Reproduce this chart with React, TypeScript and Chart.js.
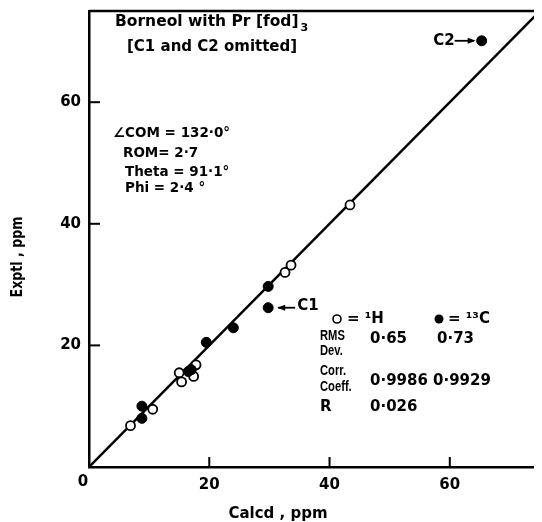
import React, { useEffect, useRef } from "react";
import { Chart, registerables } from "chart.js";
Chart.register(...registerables);

const xTicks = [20, 40, 60];
const yTicks = [20, 40, 60];
const axisMax = 75;
const hCalcd = [6.9, 10.6, 15.0, 15.4, 17.4, 17.8, 32.6, 33.6, 43.4];
const hExptl = [6.8, 9.5, 15.5, 14.0, 14.9, 16.8, 32.0, 33.2, 43.1];
const cCalcd = [8.8, 8.8, 16.5, 17.0, 19.5, 24.0, 29.8];
const cExptl = [10.0, 8.0, 15.7, 16.0, 20.5, 22.9, 29.7];
const c1Point = { x: 29.8, y: 26.2 };
const c2Point = { x: 65.3, y: 70.1 };
const fitLine = [0, 75];

const FONT = "'DejaVu Sans', sans-serif";
const NARROW = "'Liberation Sans', Arial, sans-serif";

export default function App() {
  const ref = useRef<HTMLCanvasElement>(null);
  useEffect(() => {
    const canvas = ref.current!;
    const condensed = (ctx: CanvasRenderingContext2D, text: string, x: number, y: number, sx: number) => {
      ctx.save();
      ctx.translate(x, y);
      ctx.scale(sx, 1);
      ctx.fillText(text, 0, 0);
      ctx.restore();
    };
    const deco = {
      id: "deco",
      afterDraw(chart: any) {
        const ctx = chart.ctx as CanvasRenderingContext2D;
        const xs = chart.scales.x;
        const ys = chart.scales.y;
        const a = chart.chartArea;
        ctx.save();
        ctx.strokeStyle = "#000";
        ctx.fillStyle = "#000";
        ctx.lineWidth = 2.5;
        // top border
        ctx.beginPath();
        ctx.moveTo(a.left, a.top);
        ctx.lineTo(a.right, a.top);
        ctx.stroke();
        // inward ticks
        ctx.lineWidth = 2;
        for (const v of xTicks) {
          const px = xs.getPixelForValue(v);
          ctx.beginPath();
          ctx.moveTo(px, a.bottom);
          ctx.lineTo(px, a.bottom - 10);
          ctx.stroke();
        }
        for (const v of yTicks) {
          const py = ys.getPixelForValue(v);
          ctx.beginPath();
          ctx.moveTo(a.left, py);
          ctx.lineTo(a.left + 11, py);
          ctx.stroke();
        }
        ctx.textBaseline = "middle";
        ctx.font = `bold 15px ${FONT}`;
        ctx.textAlign = "center";
        ctx.fillText("0", xs.getPixelForValue(0) - 6, a.bottom + 15);
        // axis titles
        ctx.fillText("Calcd , ppm", 270, 506);
        ctx.save();
        ctx.font = `bold 15px ${FONT}`;
        ctx.translate(10, 249);
        ctx.rotate(-Math.PI / 2);
        ctx.scale(0.84, 1);
        ctx.fillText("Exptl , ppm", 0, 0);
        ctx.restore();
        ctx.textAlign = "left";
        // title block
        ctx.font = `bold 15.5px ${FONT}`;
        ctx.fillText("Borneol with Pr [fod]", 107, 14);
        const w = ctx.measureText("Borneol with Pr [fod]").width;
        ctx.font = `bold 11px ${FONT}`;
        ctx.fillText("3", 107 + w + 2, 20);
        ctx.font = `bold 15px ${FONT}`;
        ctx.fillText("[C1 and C2 omitted]", 119, 39);
        ctx.font = `bold 13.5px ${FONT}`;
        ctx.fillText("\u2220COM = 132\u00b70\u00b0", 105, 125);
        ctx.fillText("ROM= 2\u00b77", 115, 145);
        ctx.fillText("Theta = 91\u00b71\u00b0", 117, 164);
        ctx.fillText("Phi = 2\u00b74 \u00b0", 117, 180);
        ctx.font = `bold 15px ${FONT}`;
        // C1 annotation
        const c1x = xs.getPixelForValue(c1Point.x);
        const c1y = ys.getPixelForValue(c1Point.y);
        ctx.lineWidth = 1.8;
        ctx.beginPath();
        ctx.moveTo(c1x + 10, c1y);
        ctx.lineTo(c1x + 27, c1y);
        ctx.stroke();
        ctx.beginPath();
        ctx.moveTo(c1x + 9, c1y);
        ctx.lineTo(c1x + 17, c1y - 3);
        ctx.lineTo(c1x + 17, c1y + 3);
        ctx.closePath();
        ctx.fill();
        ctx.fillText("C1", c1x + 29, c1y - 2);
        // C2 annotation
        const c2x = xs.getPixelForValue(c2Point.x);
        const c2y = ys.getPixelForValue(c2Point.y);
        ctx.beginPath();
        ctx.moveTo(c2x - 27, c2y);
        ctx.lineTo(c2x - 8, c2y);
        ctx.stroke();
        ctx.beginPath();
        ctx.moveTo(c2x - 6, c2y);
        ctx.lineTo(c2x - 14, c2y - 3);
        ctx.lineTo(c2x - 14, c2y + 3);
        ctx.closePath();
        ctx.fill();
        ctx.textAlign = "right";
        ctx.fillText("C2", c2x - 27, c2y);
        ctx.textAlign = "left";
        // legend / statistics table
        ctx.lineWidth = 1.6;
        ctx.beginPath();
        ctx.arc(329, 311, 4, 0, Math.PI * 2);
        ctx.stroke();
        ctx.fillText("= \u00b9H", 339, 311);
        ctx.beginPath();
        ctx.arc(431, 311, 4.5, 0, Math.PI * 2);
        ctx.fill();
        ctx.fillText("= \u00b9\u00b3C", 440, 311);
        ctx.fillText("0\u00b765", 362, 331);
        ctx.fillText("0\u00b773", 429, 331);
        ctx.fillText("0\u00b79986", 362, 373);
        ctx.fillText("0\u00b79929", 425, 373);
        ctx.fillText("R", 312, 399);
        ctx.fillText("0\u00b7026", 362, 399);
        ctx.font = `bold 14px ${NARROW}`;
        condensed(ctx, "RMS", 312, 328, 0.8);
        condensed(ctx, "Dev.", 312, 343, 0.8);
        condensed(ctx, "Corr.", 312, 363, 0.8);
        condensed(ctx, "Coeff.", 312, 379, 0.8);
        ctx.restore();
      },
    };
    const noPad = (s: any) => {
      s.paddingTop = 0;
      s.paddingBottom = 0;
      s.paddingLeft = 0;
      s.paddingRight = 0;
    };
    const chart = new Chart(canvas, {
      type: "scatter",
      data: {
        datasets: [
          {
            label: "1H",
            data: hCalcd.map((x, i) => ({ x, y: hExptl[i] })),
            pointRadius: 4.5,
            pointBackgroundColor: "#fff",
            pointBorderColor: "#000",
            pointBorderWidth: 1.8,
            order: 1,
          },
          {
            label: "13C",
            data: [...cCalcd.map((x, i) => ({ x, y: cExptl[i] })), c1Point, c2Point],
            pointRadius: 5,
            pointBackgroundColor: "#000",
            pointBorderColor: "#000",
            pointBorderWidth: 1,
            order: 0,
          },
          {
            label: "fit",
            data: fitLine.map((v) => ({ x: v, y: v })),
            showLine: true,
            borderColor: "#000",
            borderWidth: 2.5,
            pointRadius: 0,
            order: 5,
          },
        ],
      },
      options: {
        responsive: false,
        animation: false,
        layout: { autoPadding: false, padding: { top: 3, right: 2, left: 0, bottom: 0 } },
        plugins: { legend: { display: false }, tooltip: { enabled: false } },
        scales: {
          x: {
            type: "linear",
            min: 0,
            max: axisMax,
            grid: { display: false, drawTicks: false },
            border: { display: true, color: "#000", width: 2.5 },
            afterBuildTicks: (s: any) => {
              s.ticks = xTicks.map((v) => ({ value: v }));
            },
            afterFit: (s: any) => {
              s.height = 55;
              noPad(s);
            },
            ticks: {
              color: "#000",
              padding: 9,
              maxRotation: 0,
              font: { family: FONT, size: 15, weight: "bold" },
            },
          },
          y: {
            type: "linear",
            min: 0,
            max: axisMax,
            grid: { display: false, drawTicks: false },
            border: { display: true, color: "#000", width: 2.5 },
            afterBuildTicks: (s: any) => {
              s.ticks = yTicks.map((v) => ({ value: v }));
            },
            afterFit: (s: any) => {
              s.width = 81;
              noPad(s);
            },
            ticks: {
              color: "#000",
              padding: 8,
              font: { family: FONT, size: 15, weight: "bold" },
            },
          },
        },
      },
      plugins: [deco],
    });
    return () => chart.destroy();
  }, []);
  return <canvas ref={ref} width={534} height={514} style={{ display: "block" }} />;
}
